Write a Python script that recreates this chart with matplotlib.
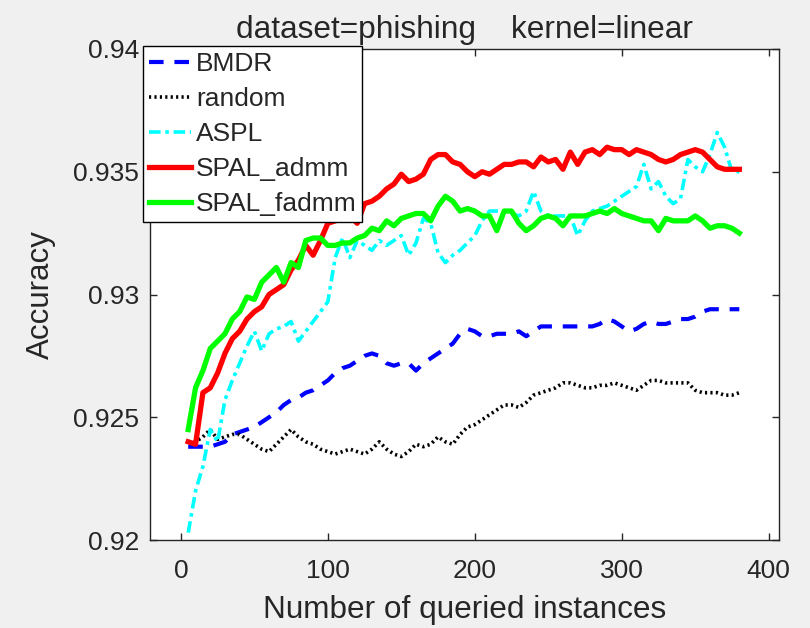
import matplotlib
matplotlib.use("Agg")
import matplotlib.pyplot as plt
import numpy as np

plt.rcParams["font.family"] = ["Liberation Sans", "DejaVu Sans"]

# --- data (accuracy vs queried instances, step 5)
queried = np.arange(5, 385, 5)

bmdr = [
    0.9238, 0.9238, 0.9238, 0.9238, 0.9239, 0.9240, 0.9243, 0.9244, 0.9245, 0.9246,
    0.9248, 0.9250, 0.9252, 0.9255, 0.9257, 0.9258, 0.9260, 0.9261, 0.9263, 0.9265,
    0.9268, 0.9270, 0.9271, 0.9273, 0.9275, 0.9276, 0.9275, 0.9272, 0.9271, 0.9272,
    0.9272, 0.9269, 0.9272, 0.9274, 0.9276, 0.9278, 0.9280, 0.9284, 0.9286, 0.9285,
    0.9283, 0.9283, 0.9284, 0.9284, 0.9284, 0.9285, 0.9283, 0.9285, 0.9287, 0.9287,
    0.9287, 0.9287, 0.9287, 0.9287, 0.9287, 0.9287, 0.9288, 0.9290, 0.9289, 0.9287,
    0.9285, 0.9286, 0.9288, 0.9289, 0.9288, 0.9288, 0.9289, 0.9290, 0.9290, 0.9291,
    0.9293, 0.9294, 0.9294, 0.9294, 0.9294, 0.9294,
]

random_ = [
    0.9240, 0.9240, 0.9242, 0.9245, 0.9241, 0.9242, 0.9243, 0.9243, 0.9241, 0.9239,
    0.9237, 0.9236, 0.9239, 0.9242, 0.9245, 0.9242, 0.9240, 0.9239, 0.9237, 0.9236,
    0.9235, 0.9236, 0.9237, 0.9236, 0.9235, 0.9237, 0.9240, 0.9237, 0.9235, 0.9234,
    0.9236, 0.9239, 0.9238, 0.9239, 0.9242, 0.9240, 0.9239, 0.9243, 0.9246, 0.9247,
    0.9249, 0.9251, 0.9253, 0.9255, 0.9255, 0.9254, 0.9256, 0.9259, 0.9260, 0.9261,
    0.9262, 0.9264, 0.9264, 0.9263, 0.9262, 0.9262, 0.9263, 0.9263, 0.9264, 0.9263,
    0.9262, 0.9261, 0.9263, 0.9265, 0.9265, 0.9264, 0.9264, 0.9264, 0.9264, 0.9261,
    0.9260, 0.9260, 0.9260, 0.9259, 0.9259, 0.9260,
]

aspl = [
    0.9203, 0.9220, 0.9230, 0.9245, 0.9240, 0.9257, 0.9265, 0.9272, 0.9279, 0.9285,
    0.9277, 0.9284, 0.9286, 0.9287, 0.9289, 0.9281, 0.9285, 0.9289, 0.9293, 0.9297,
    0.9315, 0.9323, 0.9315, 0.9322, 0.9320, 0.9318, 0.9322, 0.9320, 0.9322, 0.9324,
    0.9316, 0.9321, 0.9331, 0.9329, 0.9317, 0.9313, 0.9316, 0.9318, 0.9321, 0.9324,
    0.9330, 0.9334, 0.9334, 0.9334, 0.9333, 0.9332, 0.9334, 0.9342, 0.9334, 0.9332,
    0.9332, 0.9332, 0.9332, 0.9324, 0.9330, 0.9334, 0.9335, 0.9336, 0.9338, 0.9340,
    0.9342, 0.9344, 0.9353, 0.9343, 0.9346, 0.9340, 0.9337, 0.9339, 0.9355, 0.9352,
    0.9350, 0.9357, 0.9366, 0.9360, 0.9350, 0.9350,
]

spal_admm = [
    0.9240, 0.9239, 0.9260, 0.9262, 0.9268, 0.9276, 0.9282, 0.9285, 0.9290, 0.9293,
    0.9295, 0.9300, 0.9302, 0.9304, 0.9310, 0.9314, 0.9320, 0.9316, 0.9322, 0.9329,
    0.9330, 0.9331, 0.9332, 0.9329, 0.9337, 0.9338, 0.9340, 0.9343, 0.9345, 0.9349,
    0.9346, 0.9347, 0.9349, 0.9355, 0.9357, 0.9357, 0.9354, 0.9353, 0.9350, 0.9348,
    0.9350, 0.9349, 0.9351, 0.9353, 0.9353, 0.9354, 0.9354, 0.9352, 0.9356, 0.9354,
    0.9355, 0.9351, 0.9358, 0.9353, 0.9358, 0.9359, 0.9357, 0.9360, 0.9359, 0.9359,
    0.9357, 0.9359, 0.9358, 0.9357, 0.9355, 0.9354, 0.9355, 0.9357, 0.9358, 0.9359,
    0.9358, 0.9355, 0.9352, 0.9351, 0.9351, 0.9351,
]

spal_fadmm = [
    0.9245, 0.9262, 0.9269, 0.9278, 0.9281, 0.9284, 0.9290, 0.9293, 0.9299, 0.9298,
    0.9305, 0.9308, 0.9311, 0.9305, 0.9313, 0.9311, 0.9322, 0.9323, 0.9323, 0.9320,
    0.9320, 0.9321, 0.9321, 0.9323, 0.9324, 0.9327, 0.9326, 0.9330, 0.9328, 0.9331,
    0.9332, 0.9333, 0.9333, 0.9330, 0.9336, 0.9340, 0.9338, 0.9334, 0.9335, 0.9334,
    0.9332, 0.9332, 0.9326, 0.9334, 0.9334, 0.9329, 0.9326, 0.9328, 0.9331, 0.9332,
    0.9331, 0.9328, 0.9332, 0.9332, 0.9332, 0.9333, 0.9334, 0.9333, 0.9335, 0.9333,
    0.9332, 0.9331, 0.9330, 0.9330, 0.9326, 0.9331, 0.9330, 0.9330, 0.9330, 0.9332,
    0.9330, 0.9327, 0.9328, 0.9328, 0.9327, 0.9325,
]

xticks = [0, 100, 200, 300, 400]
yticks = [0.92, 0.925, 0.93, 0.935, 0.94]
ytick_labels = ["0.92", "0.925", "0.93", "0.935", "0.94"]

# --- figure
W, H = 810, 628
fig = plt.figure(figsize=(W / 100, H / 100), dpi=100, facecolor="#f0f0f0")
ax = fig.add_axes([150 / W, 88 / H, 629 / W, 491 / H])

ax.plot(queried, bmdr, color="#0000ff", linestyle=(0, (3.5, 2.6)), lw=3.0, label="BMDR")
ax.plot(queried, random_, color="black", linestyle=(0, (0.6, 0.9)), lw=2.6, label="random")
ax.plot(queried, aspl, color="#00ffff", linestyle=(0, (3.2, 1.3, 1.0, 1.3)), lw=2.6, label="ASPL")
ax.plot(queried, spal_admm, color="#ff0000", lw=3.8, label="SPAL_admm")
ax.plot(queried, spal_fadmm, color="#00ff00", lw=3.8, label="SPAL_fadmm")

ax.set_xlim(-21, 407)
ax.set_ylim(0.92, 0.94)
ax.set_xticks(xticks)
ax.set_yticks(yticks)
ax.set_yticklabels(ytick_labels)

axis_col = "#262626"
for sp in ax.spines.values():
    sp.set_color(axis_col)
    sp.set_linewidth(1.0)
ax.tick_params(direction="in", length=5, width=1.0, colors=axis_col,
               labelsize=19, top=True, right=True)
ax.tick_params(axis="x", pad=14)
ax.tick_params(axis="y", pad=8)
for lbl in ax.get_xticklabels() + ax.get_yticklabels():
    lbl.set_color(axis_col)

ax.set_xlabel("Number of queried instances", fontsize=22.7, color=axis_col, labelpad=8)
ax.set_ylabel("Accuracy", fontsize=22.5, color=axis_col, labelpad=12)
ax.set_title("dataset=phishing    kernel=linear", fontsize=22.8, color=axis_col, pad=8)

leg = fig.legend(
    loc="upper left",
    bbox_to_anchor=(143 / W, 1 - 46 / H),
    bbox_transform=fig.transFigure,
    fontsize=19,
    frameon=True,
    fancybox=False,
    edgecolor="black",
    framealpha=1,
    borderaxespad=0,
    borderpad=0.22,
    handlelength=1.6,
    handletextpad=0.18,
    labelspacing=0.42,
)
leg.get_frame().set_linewidth(1.0)
for t in leg.get_texts():
    t.set_color(axis_col)

fig.savefig("out.png", dpi=100, facecolor=fig.get_facecolor())
